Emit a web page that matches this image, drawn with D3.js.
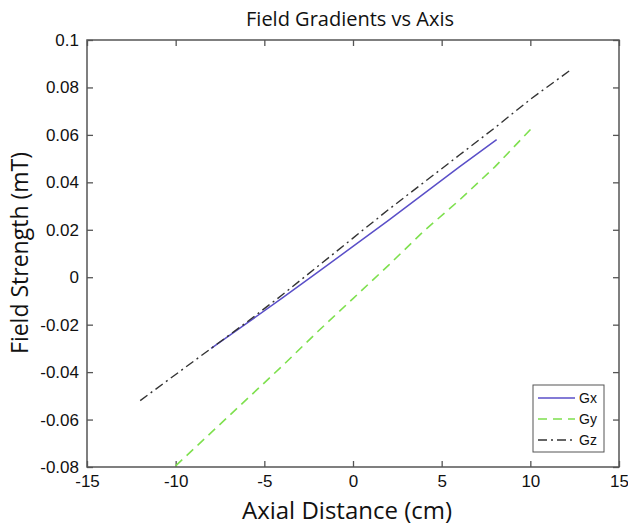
<!DOCTYPE html>
<html>
<head>
<meta charset="utf-8">
<script src="https://cdn.jsdelivr.net/npm/d3@7"></script>
<style>
  body { margin: 0; background: #fff; }
  svg { display: block; }
  .tick text { font-family: "Liberation Sans", Arial, sans-serif; font-size: 17px; fill: #111; }
</style>
</head>
<body>
<svg width="628" height="526"></svg>
<script>
// data
var gxX = [-8, -6, -4, -2, 0, 2, 4, 6, 8.1];
var gxY = [-0.030, -0.0195, -0.0088, 0.002, 0.013, 0.024, 0.0352, 0.0465, 0.058];
var gyX = [-10, -8, -6, -4, -2, 0, 2, 4, 6, 8, 10.1];
var gyY = [-0.0795, -0.0655, -0.0515, -0.0375, -0.023, -0.009, 0.005, 0.0195, 0.0325, 0.0465, 0.063];
var gzX = [-12, -10, -8, -6, -4, -2, 0, 2, 4, 6, 8, 10, 12.2];
var gzY = [-0.052, -0.041, -0.030, -0.019, -0.0075, 0.0045, 0.0165, 0.0285, 0.040, 0.0515, 0.063, 0.075, 0.087];
var xTicks = [-15, -10, -5, 0, 5, 10, 15];
var yTicks = [-0.08, -0.06, -0.04, -0.02, 0, 0.02, 0.04, 0.06, 0.08, 0.1];
var seriesNames = ["Gx", "Gy", "Gz"];

var svg = d3.select("svg");
var mLeft = 87, mRight = 619, mTop = 40, mBottom = 467;

var x = d3.scaleLinear().domain([-15, 15]).range([mLeft, mRight]);
var y = d3.scaleLinear().domain([-0.08, 0.1]).range([mBottom, mTop]);

// frame
svg.append("rect")
  .attr("x", mLeft).attr("y", mTop)
  .attr("width", mRight - mLeft).attr("height", mBottom - mTop)
  .attr("fill", "none").attr("stroke", "#555").attr("stroke-width", 1.5);

var fmt = d => d === 0 ? "0" : String(+d.toFixed(2));

// bottom axis, ticks point inward
svg.append("g").attr("transform", "translate(0," + mBottom + ")")
  .call(d3.axisBottom(x).tickValues(xTicks).tickSize(-6).tickPadding(8).tickFormat(d => d));
// top ticks
svg.append("g").attr("transform", "translate(0," + mTop + ")")
  .call(d3.axisTop(x).tickValues(xTicks).tickSize(-6).tickFormat(""));
svg.append("g").attr("transform", "translate(" + mLeft + ",0)")
  .call(d3.axisLeft(y).tickValues(yTicks).tickSize(-6).tickPadding(8).tickFormat(fmt));
svg.append("g").attr("transform", "translate(" + mRight + ",0)")
  .call(d3.axisRight(y).tickValues(yTicks).tickSize(-6).tickFormat(""));

svg.selectAll(".domain").remove();
svg.selectAll(".tick line").attr("stroke", "#555").attr("stroke-width", 1.3);

// lines
var line = d3.line().x(d => x(d[0])).y(d => y(d[1]));
var lines = [
  { pts: d3.zip(gxX, gxY), color: "#5a4fc8", dash: null, w: 1.5 },
  { pts: d3.zip(gyX, gyY), color: "#7ee04e", dash: "9,6", w: 1.6 },
  { pts: d3.zip(gzX, gzY), color: "#333", dash: "9,4,2,4", w: 1.4 }
];
lines.forEach(s => {
  svg.append("path")
    .attr("d", line(s.pts))
    .attr("fill", "none")
    .attr("stroke", s.color)
    .attr("stroke-width", s.w)
    .attr("stroke-dasharray", s.dash);
});

// legend
var lg = svg.append("g");
lg.append("rect").attr("x", 533).attr("y", 385).attr("width", 71).attr("height", 67)
  .attr("fill", "#fff").attr("stroke", "#555").attr("stroke-width", 1);
seriesNames.forEach((n, i) => {
  var yy = 398 + i * 21;
  lg.append("line").attr("x1", 538).attr("x2", 575).attr("y1", yy).attr("y2", yy)
    .attr("stroke", lines[i].color).attr("stroke-width", 1.3)
    .attr("stroke-dasharray", lines[i].dash);
  lg.append("text").attr("x", 579).attr("y", yy + 5).text(n)
    .attr("font-family", "Liberation Sans, Arial, sans-serif").attr("font-size", 14).attr("fill", "#111");
});

// titles
svg.append("text").attr("x", 350).attr("y", 26).attr("text-anchor", "middle")
  .attr("font-family", "Open Sans, sans-serif").attr("font-size", 20).attr("fill", "#111")
  .text("Field Gradients vs Axis");
svg.append("text").attr("x", 347).attr("y", 519).attr("text-anchor", "middle")
  .attr("font-family", "Open Sans, sans-serif").attr("font-size", 24).attr("fill", "#111")
  .text("Axial Distance (cm)");
svg.append("text").attr("transform", "translate(28,253) rotate(-90)").attr("text-anchor", "middle")
  .attr("font-family", "Open Sans, sans-serif").attr("font-size", 23).attr("fill", "#111")
  .text("Field Strength (mT)");
</script>
</body>
</html>
